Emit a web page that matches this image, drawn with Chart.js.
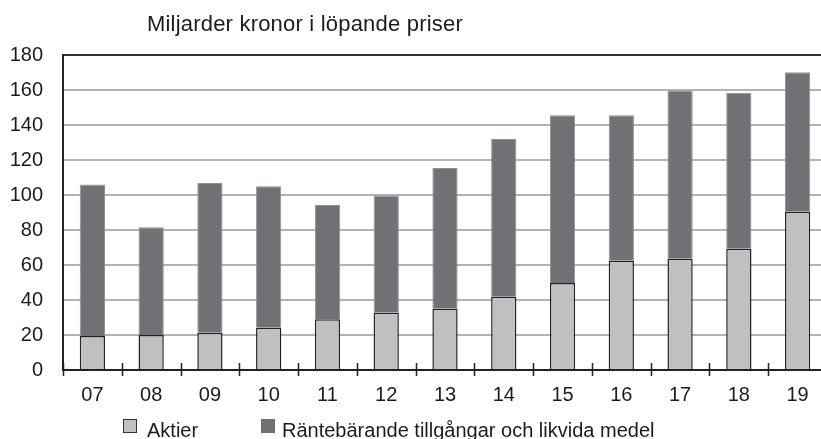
<!DOCTYPE html>
<html>
<head>
<meta charset="utf-8">
<script src="https://cdn.jsdelivr.net/npm/chart.js@4.4.1/dist/chart.umd.min.js"></script>
<style>
  html, body { margin: 0; padding: 0; background: #fff; }
  #wrap { width: 821px; height: 439px; position: relative; overflow: hidden; }
  #chart { display: block; }
</style>
</head>
<body>
<div id="wrap"><canvas id="chart" width="827" height="439"></canvas></div>
<script>
  var years = ["07", "08", "09", "10", "11", "12", "13", "14", "15", "16", "17", "18", "19"];
  var aktier = [19.5, 20, 21.3, 24.3, 29, 32.8, 35.1, 41.8, 49.7, 62.5, 63.6, 69.3, 90.4];
  var rantebarande = [86.5, 61.6, 85.6, 80.7, 65.3, 66.9, 80.4, 90.2, 95.9, 83.1, 96.1, 89.2, 79.7];
  var yTicks = [0, 20, 40, 60, 80, 100, 120, 140, 160, 180];
  var titleText = "Miljarder kronor i löpande priser";

  var FONT = "'Liberation Sans', Arial, sans-serif";
  var INK = "#1c1c1c";
  var LIGHT = "#bfc0c2";
  var DARK = "#707174";

  // title + legend drawn at fixed spots, like the original layout
  var decorations = {
    id: "decorations",
    afterDraw: function (chart) {
      var ctx = chart.ctx;
      ctx.save();
      ctx.fillStyle = INK;
      ctx.textBaseline = "alphabetic";
      ctx.textAlign = "left";
      ctx.font = "22px " + FONT;
      if ("letterSpacing" in ctx) ctx.letterSpacing = "0.2px";
      ctx.fillText(titleText, 147, 31);
      if ("letterSpacing" in ctx) ctx.letterSpacing = "0px";

      var spots = [{ box: 123, text: 147 }, { box: 261, text: 282 }];
      ctx.font = "20px " + FONT;
      chart.data.datasets.forEach(function (ds, i) {
        var s = spots[i];
        ctx.fillStyle = ds.backgroundColor;
        ctx.fillRect(s.box, 419, 14, 14);
        if (i === 0) {
          ctx.strokeStyle = "#333";
          ctx.lineWidth = 1;
          ctx.strokeRect(s.box + 0.5, 419.5, 13, 13);
        }
        ctx.fillStyle = INK;
        ctx.fillText(ds.label, s.text, 437);
      });
      ctx.restore();
    }
  };

  // category separators crossing the x axis
  var xTickMarks = {
    id: "xTickMarks",
    afterDraw: function (chart) {
      var x = chart.scales.x;
      var y0 = chart.chartArea.bottom;
      var ctx = chart.ctx;
      ctx.save();
      ctx.strokeStyle = "#222";
      ctx.lineWidth = 1.5;
      for (var i = 0; i <= years.length; i++) {
        var px = Math.round(x.getPixelForValue(i - 0.5)) + 0.5;
        ctx.beginPath();
        ctx.moveTo(px, y0 - 7);
        ctx.lineTo(px, y0 + 6);
        ctx.stroke();
      }
      ctx.restore();
    }
  };

  new Chart(document.getElementById("chart"), {
    type: "bar",
    data: {
      labels: years,
      datasets: [
        {
          label: "Aktier",
          data: aktier,
          backgroundColor: LIGHT,
          borderColor: "#222",
          borderWidth: 1.5,
          borderSkipped: "bottom",
          categoryPercentage: 1,
          barPercentage: 0.43
        },
        {
          label: "Räntebärande tillgångar och likvida medel",
          data: rantebarande,
          backgroundColor: DARK,
          borderColor: "#909193",
          borderWidth: 1,
          borderSkipped: "bottom",
          categoryPercentage: 1,
          barPercentage: 0.43
        }
      ]
    },
    options: {
      responsive: false,
      devicePixelRatio: 1,
      animation: false,
      layout: { padding: { top: 55, right: 0, left: 0, bottom: 27 } },
      plugins: {
        legend: { display: false },
        tooltip: { enabled: false }
      },
      scales: {
        x: {
          stacked: true,
          grid: { display: false, offset: true },
          border: { display: true, color: "#222", width: 2 },
          ticks: { color: INK, font: { family: FONT, size: 20 }, padding: 5, maxRotation: 0 }
        },
        y: {
          stacked: true,
          min: 0,
          max: 180,
          afterBuildTicks: function (scale) {
            scale.ticks = yTicks.map(function (v) { return { value: v }; });
          },
          afterFit: function (scale) { scale.width = 63; },
          grid: {
            drawTicks: false,
            lineWidth: 2,
            color: function (c) { return c.tick && c.tick.value === 180 ? "#333" : "#b3b3b3"; }
          },
          border: { display: true, color: "#222", width: 2 },
          ticks: { color: INK, font: { family: FONT, size: 20 }, padding: 20 }
        }
      }
    },
    plugins: [xTickMarks, decorations]
  });
</script>
</body>
</html>
